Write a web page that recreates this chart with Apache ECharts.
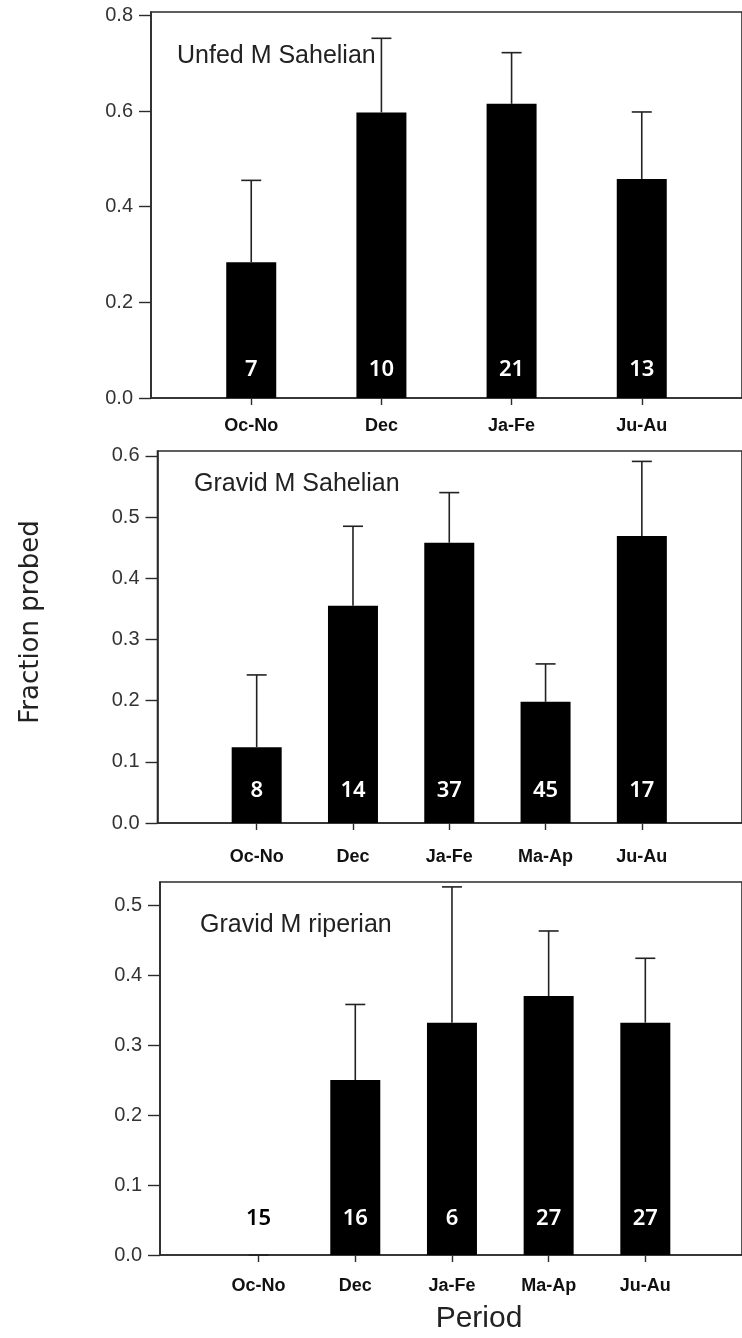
<!DOCTYPE html>
<html>
<head>
<meta charset="utf-8">
<script src="https://cdn.jsdelivr.net/npm/echarts@6/dist/echarts.min.js"></script>
<style>
  html, body { margin: 0; padding: 0; background: #fff; }
  #main { width: 742px; height: 1338px; }
</style>
</head>
<body>
<div id="main"></div>
<script>
// categories
var periods4 = ['Oc-No', 'Dec', 'Ja-Fe', 'Ju-Au'];
var periods5 = ['Oc-No', 'Dec', 'Ja-Fe', 'Ma-Ap', 'Ju-Au'];

// Unfed M Sahelian
var unfedSahelMean = [0.284, 0.597, 0.615, 0.458];
var unfedSahelUpper = [0.455, 0.752, 0.722, 0.598];
var unfedSahelN = [7, 10, 21, 13];

// Gravid M Sahelian
var gravidSahelMean = [0.124, 0.355, 0.458, 0.198, 0.469];
var gravidSahelUpper = [0.242, 0.485, 0.540, 0.260, 0.591];
var gravidSahelN = [8, 14, 37, 45, 17];

// Gravid M riperian
var gravidRipMean = [0, 0.25, 0.332, 0.37, 0.332];
var gravidRipUpper = [0, 0.358, 0.526, 0.463, 0.424];
var gravidRipN = [15, 16, 6, 27, 27];

// y tick labels
var ticks1 = [0, 0.2, 0.4, 0.6, 0.8];
var ticks2 = [0, 0.1, 0.2, 0.3, 0.4, 0.5, 0.6];
var ticks3 = [0, 0.1, 0.2, 0.3, 0.4, 0.5];

var panels = [
  { title: 'Unfed M Sahelian', cats: periods4, mean: unfedSahelMean, upper: unfedSahelUpper, n: unfedSahelN, ticks: ticks1,
    left: 151, top: 12, height: 386, yMax: 0.807, xMin: -0.77, xMax: 3.77, titleX: 172, titleY: 39, labelDist: 17, nameMargin: 19 },
  { title: 'Gravid M Sahelian', cats: periods5, mean: gravidSahelMean, upper: gravidSahelUpper, n: gravidSahelN, ticks: ticks2,
    left: 157.5, top: 451, height: 372, yMax: 0.608, xMin: -1.03, xMax: 5.04, titleX: 189, titleY: 467, labelDist: 21, nameMargin: 25 },
  { title: 'Gravid M riperian', cats: periods5, mean: gravidRipMean, upper: gravidRipUpper, n: gravidRipN, ticks: ticks3,
    left: 160, top: 882, height: 373, yMax: 0.533, xMin: -1.02, xMax: 5.0, titleX: 195, titleY: 908, labelDist: 25, nameMargin: 22 }
];

var axisColor = '#2b2b2b';
var grids = [], xAxes = [], yAxes = [], series = [], titles = [];

panels.forEach(function (p, k) {
  grids.push({ left: p.left, top: p.top, height: p.height, right: -3, show: true,
    borderColor: axisColor, borderWidth: 1.6, backgroundColor: 'transparent' });
  var idx = p.cats.map(function (c, i) { return i; });
  xAxes.push({
    type: 'value', gridIndex: k, min: p.xMin, max: p.xMax,
    splitLine: { show: false },
    axisLine: { show: true, onZero: false, lineStyle: { color: axisColor, width: 1.6 } },
    axisTick: { show: true, customValues: idx, length: 7, lineStyle: { color: axisColor, width: 1.4 } },
    axisLabel: { customValues: idx, margin: p.nameMargin, color: '#111', fontFamily: 'Liberation Sans',
      fontWeight: 'bold', fontSize: 18, formatter: function (v) { return p.cats[Math.round(v)]; } }
  });
  yAxes.push({
    type: 'value', gridIndex: k, min: 0, max: p.yMax,
    splitLine: { show: false },
    axisLine: { show: true, onZero: false, lineStyle: { color: axisColor, width: 1.6 } },
    axisTick: { show: true, customValues: p.ticks, length: 12, lineStyle: { color: axisColor, width: 1.4 } },
    axisLabel: { customValues: p.ticks, margin: 18, color: '#333', fontFamily: 'Liberation Sans', fontSize: 20,
      formatter: function (v) { return v.toFixed(1); } }
  });
  series.push({
    type: 'bar', xAxisIndex: k, yAxisIndex: k, barWidth: 50, z: 2,
    itemStyle: { color: '#000' },
    data: p.mean.map(function (m, i) {
      return { value: [i, m], label: { color: m === 0 ? '#000' : '#fff' } };
    }),
    label: {
      show: true, position: 'insideBottom', distance: p.labelDist,
      fontFamily: 'Noto Sans', fontWeight: 600, fontSize: 22,
      formatter: function (d) { return String(p.n[d.dataIndex]); }
    }
  });
  series.push({
    type: 'custom', xAxisIndex: k, yAxisIndex: k, z: 3,
    data: p.mean.map(function (m, i) { return [i, m, p.upper[i]]; }),
    encode: { x: 0, y: [1, 2] },
    renderItem: function (params, api) {
      var lo = api.coord([api.value(0), api.value(1)]);
      var hi = api.coord([api.value(0), api.value(2)]);
      var st = { stroke: '#222', lineWidth: 1.6 };
      return { type: 'group', children: [
        { type: 'line', shape: { x1: lo[0], y1: lo[1], x2: hi[0], y2: hi[1] }, style: st },
        { type: 'line', shape: { x1: hi[0] - 10, y1: hi[1], x2: hi[0] + 10, y2: hi[1] }, style: st }
      ] };
    }
  });
  titles.push({ text: p.title, left: p.titleX, top: p.titleY,
    textStyle: { fontFamily: 'Liberation Sans', fontWeight: 'normal', fontSize: 25, color: '#222' } });
});

var myChart = echarts.init(document.getElementById('main'), null, { renderer: 'canvas' });
myChart.setOption({
  animation: false,
  backgroundColor: '#fff',
  title: titles,
  grid: grids,
  xAxis: xAxes,
  yAxis: yAxes,
  series: series,
  graphic: [
    { type: 'text', x: 31, y: 622, rotation: Math.PI / 2,
      style: { text: 'Fraction probed', fontFamily: 'DejaVu Sans', fontSize: 26, fill: '#222',
        align: 'center', verticalAlign: 'middle' } },
    { type: 'text', x: 479, y: 1319,
      style: { text: 'Period', fontFamily: 'Liberation Sans', fontSize: 30, fill: '#222',
        align: 'center', verticalAlign: 'middle' } }
  ]
});
</script>
</body>
</html>
